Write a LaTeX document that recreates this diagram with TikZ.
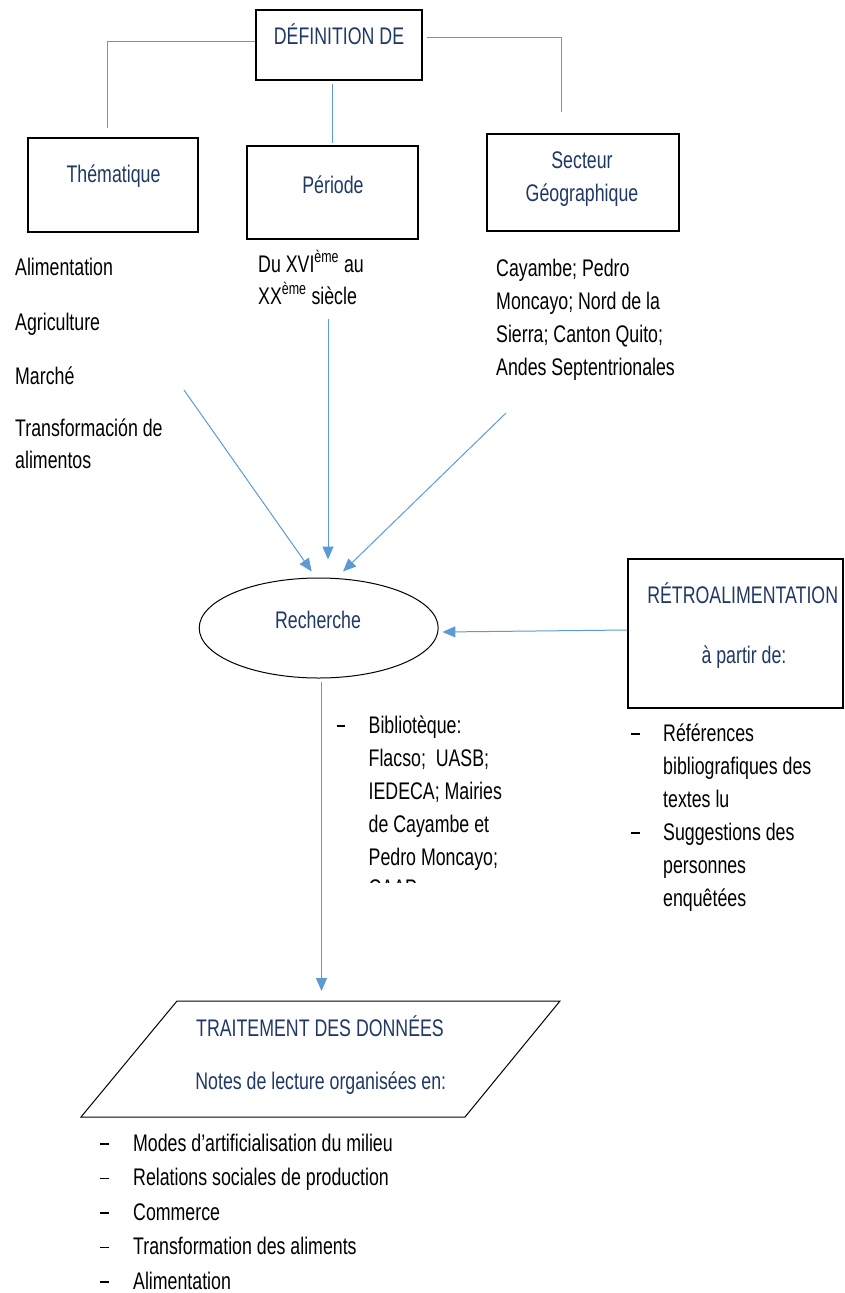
\documentclass[tikz,border=0pt]{standalone}
\usepackage{fontspec}
\setmainfont{Liberation Sans}[FakeStretch=0.74]
\usetikzlibrary{shapes.geometric,arrows.meta,calc}
\definecolor{lblue}{HTML}{5B9BD5}
\definecolor{navy}{HTML}{1F3864}
\newcommand\mylines[1]{\begin{tabular}[t]{@{}l@{}}#1\end{tabular}}
\newcommand\mydash[1]{\makebox[#1][l]{\rule[6.5pt]{8.5pt}{1.1pt}}}
\tikzset{
  box/.style={draw=black,line width=1.1pt,rectangle,inner sep=0pt},
  cline/.style={draw=lblue,line width=1pt},
  arr/.style={cline,-{Triangle[length=13pt,width=11pt]}},
  ttl/.style={text=navy,anchor=base,inner sep=0pt},
  txt/.style={text=black,anchor=base west,inner sep=0pt},
}
\begin{document}
\begin{tikzpicture}[x=1pt,y=-1pt,every node/.style={font=\fontsize{24}{33}\selectfont}]
\useasboundingbox (0,0) rectangle (845,1293);

% boxes
\node[box,minimum width=166pt,minimum height=70pt] (def) at (339,45) {};
\node[box,minimum width=170pt,minimum height=94pt] (them) at (113,185) {};
\node[box,minimum width=171pt,minimum height=93pt] (per) at (332.5,192.5) {};
\node[box,minimum width=192pt,minimum height=97pt] (sect) at (583,182.5) {};
\node[draw=black,line width=1pt,ellipse,minimum width=239pt,minimum height=100pt,inner sep=0pt] (rech) at (318.7,628) {};
\node[box,minimum width=215pt,minimum height=149pt] (retro) at (735.5,633.5) {};
% parallelogram
\coordinate (trBL) at (81,1117);
\coordinate (trTL) at (177,1001);
\coordinate (trTR) at (560,1001);
\coordinate (trBR) at (465,1117);
\coordinate (trIn) at (321.5,1001);
\draw[black,line width=1pt,line join=miter] (trBL) -- (trTL) -- (trTR) -- (trBR) -- cycle;

% titles
\node[ttl] (defT) at (339,44) {DÉFINITION DE};
\node[ttl] (themT) at (113.5,182) {Thématique};
\node[ttl] (perT) at (333,193) {Période};
\node[ttl] (sectT) at (582,168) {\begin{tabular}[t]{@{}c@{}}Secteur\\Géographique\end{tabular}};
\node[ttl] (rechT) at (318,628) {Recherche};
\node[ttl] (retroT) at (742.7,603) {RÉTROALIMENTATION};
\node[ttl] (retroT2) at (744,663) {à partir de:};
\node[ttl] (traitT) at (320,1036) {TRAITEMENT DES DONNÉES};
\node[ttl] (traitT2) at (320.8,1089) {Notes de lecture organisées en:};

% connectors from DEFINITION
\coordinate (defL) at (107,128);
\coordinate (defR) at (561,112);
\coordinate (defB) at (332,143);
\draw[cline] ([yshift=4pt]def.west) -| (defL);
\draw[cline] ([xshift=4pt,yshift=8pt]def.east) -| (defR);
\draw[cline] ($(def.south -| defB)+(0,3)$) -- (defB);

% thematic texts
\node[txt] (t1) at (15,275) {Alimentation};
\node[txt] (t2) at (15,330) {Agriculture};
\node[txt] (t3) at (15,384) {Marché};
\node[txt] (t4) at (15,436) {\fontsize{24}{32}\selectfont\mylines{Transformación de\\alimentos}};
\node[txt] (p1) at (258,272) {\fontsize{24}{32}\selectfont\mylines{Du XVI\textsuperscript{ème} au\\XX\textsuperscript{ème} siècle}};
\node[txt] (s1) at (496,276) {\mylines{Cayambe; Pedro\\Moncayo; Nord de la\\Sierra; Canton Quito;\\Andes Septentrionales}};

% arrows to Recherche
\coordinate (a1) at (184,390);
\coordinate (a2) at (328,319);
\coordinate (a3) at (506,413);
\draw[arr] (a1) -- ($(rech.north)+(-7,-6)$);
\draw[arr] (a2) -- ($(rech.north)+(9.3,-18)$);
\draw[arr] (a3) -- ($(rech.north)+(24.3,-6)$);
\draw[arr] ($(retro.west)+(0,-3.5)$) -- ($(rech.east)+(3.7,4)$);
\draw[arr] ($(rech.south -| trIn)+(0,3)$) -- ($(trIn)+(0,-10)$);

% Bibliotheque list
\node[txt] (bib) at (336.5,733) {\mydash{32pt}\mylines{Bibliotèque:\\Flacso;\ \ UASB;\\IEDECA; Mairies\\de Cayambe et\\Pedro Moncayo;}};
\begin{scope}
  \clip (330,870) rectangle (560,882.5);
  \node[txt] (caap) at (368.5,896) {CAAP};
\end{scope}

% retro list
\node[txt] (r1) at (631,741) {\mydash{32pt}\mylines{Références\\bibliografiques des\\textes lu}};
\node[txt] (r2) at (631,840) {\mydash{32pt}\mylines{Suggestions des\\personnes\\enquêtées}};

% bottom list
\node[txt] (b1) at (100,1151) {\mydash{33pt}Modes d’artificialisation du milieu};
\node[txt] (b2) at (100,1185.5) {\mydash{33pt}Relations sociales de production};
\node[txt] (b3) at (100,1220) {\mydash{33pt}Commerce};
\node[txt] (b4) at (100,1254.5) {\mydash{33pt}Transformation des aliments};
\node[txt] (b5) at (100,1289) {\mydash{33pt}Alimentation};
\end{tikzpicture}
\end{document}
